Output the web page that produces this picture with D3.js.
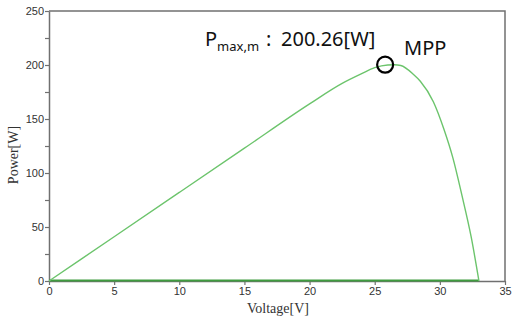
<!DOCTYPE html>
<html>
<head>
<meta charset="utf-8">
<script src="https://cdn.jsdelivr.net/npm/d3@7"></script>
<style>
  html, body { margin: 0; padding: 0; background: #fff; }
  svg { display: block; }
</style>
</head>
<body>
<script>
// P-V curve
const voltage = [0, 5, 10, 15, 20, 22.5, 24, 25, 26, 26.5, 27, 28, 28.5, 29.5, 30.3, 31, 31.7, 32.4, 33]
const power = [0, 41, 82, 123, 164, 183, 192, 197.5, 200, 200.2, 199.5, 191, 185, 166, 141, 114, 79, 41, 0]
// flat trace along zero
const baseVoltage = [0, 33]
const basePower = [0.5, 0.5]

const mppPoint = { v: 25.8, p: 200.26 }
const xTicks = [0, 5, 10, 15, 20, 25, 30, 35]
const yTicks = [0, 50, 100, 150, 200, 250]
const yMinorTicks = [25, 75, 125, 175, 225]

const width = 513
const height = 320
const margins = { left: 49, right: 8, top: 11, bottom: 39 }

const xScale = d3.scaleLinear().domain([0, 35]).range([margins.left, width - margins.right])
const yScale = d3.scaleLinear().domain([0, 250]).range([height - margins.bottom, margins.top])

const svg = d3.select('body').append('svg')
  .attr('width', width)
  .attr('height', height)
  .attr('viewBox', [0, 0, width, height].join(' '))

const axisColor = '#707070'
const tickFont = 'Liberation Sans, Arial, sans-serif'

const styleAxis = (g) => {
  g.select('.domain').attr('stroke', axisColor).attr('stroke-width', 1.5)
  g.selectAll('.tick line').attr('stroke', axisColor).attr('stroke-width', 1.2)
  g.selectAll('.tick text')
    .attr('fill', '#333')
    .style('font-family', tickFont)
    .style('font-size', '11px')
}

// frame (top and right)
svg.append('path')
  .attr('d', `M${xScale(0)},${yScale(250)}H${xScale(35)}V${yScale(0)}`)
  .attr('fill', 'none')
  .attr('stroke', axisColor)
  .attr('stroke-width', 1.5)

// x axis
svg.append('g')
  .attr('transform', `translate(0, ${yScale(0)})`)
  .call(d3.axisBottom(xScale).tickValues(xTicks).tickSize(4).tickSizeOuter(0).tickPadding(2))
  .call(styleAxis)

// y axis with minor ticks
svg.append('g')
  .attr('transform', `translate(${xScale(0)}, 0)`)
  .call(d3.axisLeft(yScale).tickValues(yMinorTicks).tickSize(4).tickFormat(''))
  .call(styleAxis)
  .select('.domain').remove()

svg.append('g')
  .attr('transform', `translate(${xScale(0)}, 0)`)
  .call(d3.axisLeft(yScale).tickValues(yTicks).tickSize(4).tickSizeOuter(0).tickPadding(1))
  .call(styleAxis)

// axis titles
svg.append('text')
  .attr('x', (xScale(0) + xScale(35)) / 2 + 1)
  .attr('y', 313)
  .attr('text-anchor', 'middle')
  .attr('fill', '#333')
  .style('font-family', 'Liberation Serif, Times New Roman, serif')
  .style('font-size', '14px')
  .text('Voltage[V]')

svg.append('text')
  .attr('transform', `translate(18, ${yScale(125) + 9}) rotate(-90)`)
  .attr('text-anchor', 'middle')
  .attr('fill', '#333')
  .style('font-family', 'Liberation Serif, Times New Roman, serif')
  .style('font-size', '14px')
  .text('Power[W]')

// lines
const line = d3.line()
  .x(d => xScale(d[0]))
  .y(d => yScale(d[1]))
  .curve(d3.curveMonotoneX)

svg.append('path')
  .datum(baseVoltage.map((v, i) => [v, basePower[i]]))
  .attr('d', line)
  .attr('fill', 'none')
  .attr('stroke', '#3f9c3f')
  .attr('stroke-width', 2)

svg.append('path')
  .datum(voltage.map((v, i) => [v, power[i]]))
  .attr('d', line)
  .attr('fill', 'none')
  .attr('stroke', '#6cc46c')
  .attr('stroke-width', 1.4)

// MPP marker
svg.append('circle')
  .attr('cx', xScale(mppPoint.v))
  .attr('cy', yScale(mppPoint.p))
  .attr('r', 8)
  .attr('fill', 'none')
  .attr('stroke', '#000')
  .attr('stroke-width', 2.2)

const annoFont = 'Noto Sans, Open Sans, sans-serif'

const anno = svg.append('text')
  .attr('x', 205)
  .attr('y', 46)
  .attr('fill', '#111')
  .style('font-family', annoFont)
  .style('font-size', '20px')
anno.append('tspan').text('P')
anno.append('tspan').attr('dy', 5).style('font-size', '13px').text('max,m')
anno.append('tspan').attr('x', 266).attr('dy', -5).text(':')
anno.append('tspan').attr('x', 281).text(`${mppPoint.p.toFixed(2)}[W]`)

svg.append('text')
  .attr('x', 404)
  .attr('y', 55)
  .attr('fill', '#111')
  .style('font-family', annoFont)
  .style('font-size', '20px')
  .text('MPP')
</script>
</body>
</html>
